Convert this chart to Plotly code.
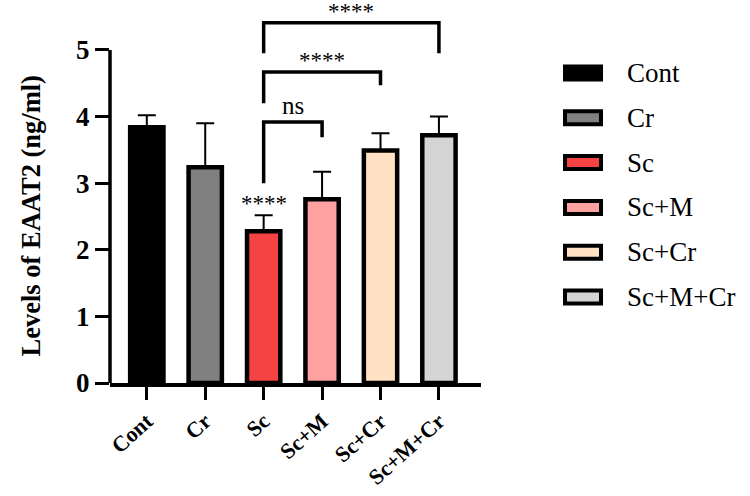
import plotly.graph_objects as go

# ---- data ----
categories = ["Cont", "Cr", "Sc", "Sc+M", "Sc+Cr", "Sc+M+Cr"]
means = [3.84, 3.24, 2.28, 2.76, 3.49, 3.72]
errors = [0.18, 0.66, 0.24, 0.41, 0.26, 0.28]
colors = ["#000000", "#808080", "#F54242", "#FFA1A1", "#FFE1C4", "#D4D4D4"]
y_ticks = [0, 1, 2, 3, 4, 5]
y_title = "Levels of EAAT2 (ng/ml)"

# significance comparisons: (from, to, label, bar height, left leg end, right leg end)
comparisons = [
    ("Sc", "Sc+M", "ns", 3.92, 3.00, 3.69),
    ("Sc", "Sc+Cr", "****", 4.67, 4.20, 4.47),
    ("Sc", "Sc+M+Cr", "****", 5.41, 4.95, 4.95),
]
single_marks = [("Sc", "****")]

# ---- layout geometry ----
W, H = 750, 496
ML, MR, MT, MB = 110, 269, 10, 113
PW, PH = W - ML - MR, H - MT - MB
Y_RANGE = [0, 5.6]
X_RANGE = [-0.63, 5.72]
SERIF = "Liberation Serif, Times New Roman, serif"
LW = 3.5


def px_x(p):
    return (p - ML) / PW


def px_y(p):
    return (H - MB - p) / PH


idx = {c: i for i, c in enumerate(categories)}

fig = go.Figure()
fig.add_trace(go.Bar(
    x=list(range(len(categories))),
    y=means,
    width=0.57,
    marker=dict(color=colors, line=dict(color="black", width=4.5)),
    error_y=dict(type="data", array=errors, arrayminus=[0] * len(errors),
                 symmetric=False, color="black", thickness=2, width=9),
    showlegend=False,
))

shapes = []
annotations = []

# y axis line (0..5 only)
shapes.append(dict(type="line", xref="paper", yref="y", x0=0, x1=0,
                   y0=y_ticks[0], y1=y_ticks[-1],
                   line=dict(color="black", width=LW)))

# brackets
for a, b, lab, h, la, lb in comparisons:
    xa, xb = idx[a], idx[b]
    shapes.append(dict(type="path", xref="x", yref="y",
                       path=f"M {xa},{la} L {xa},{h} L {xb},{h} L {xb},{lb}",
                       line=dict(color="black", width=LW)))
    is_ns = lab == "ns"
    annotations.append(dict(x=(xa + xb) / 2, y=h, xref="x", yref="y",
                            text=lab, showarrow=False, yanchor="bottom",
                            yshift=1 if is_ns else -3,
                            font=dict(family=SERIF, size=25 if is_ns else 23,
                                      color="black")))

for c, lab in single_marks:
    i = idx[c]
    annotations.append(dict(x=i, y=means[i] + errors[i], xref="x", yref="y",
                            text=lab, showarrow=False, yanchor="bottom",
                            yshift=-3,
                            font=dict(family=SERIF, size=23, color="black")))

# y axis title
annotations.append(dict(x=px_x(14), y=(Y_RANGE[0] + y_ticks[-1]) / 2,
                        xref="paper", yref="y", text=f"<b>{y_title}</b>",
                        textangle=-90, showarrow=False,
                        font=dict(family=SERIF, size=26.5, color="black")))

# custom legend
row_y = [73 + 44.8 * k for k in range(len(categories))]
for k, (c, col) in enumerate(zip(categories, colors)):
    yc = row_y[k]
    shapes.append(dict(type="rect", xref="paper", yref="paper",
                       x0=px_x(565), x1=px_x(601), y0=px_y(yc + 6.5), y1=px_y(yc - 6.5),
                       fillcolor=col, line=dict(color="black", width=4)))
    annotations.append(dict(x=px_x(625), y=px_y(yc), xref="paper", yref="paper",
                            text=c, showarrow=False, xanchor="left", yanchor="middle",
                            font=dict(family=SERIF, size=27, color="black")))

fig.update_layout(
    width=W, height=H,
    margin=dict(l=ML, r=MR, t=MT, b=MB, autoexpand=False),
    paper_bgcolor="white", plot_bgcolor="white",
    shapes=shapes, annotations=annotations,
    xaxis=dict(range=X_RANGE, tickvals=list(range(len(categories))),
               ticktext=[f"<b>{c}</b>" for c in categories],
               tickangle=-42, ticks="outside", ticklen=13, tickwidth=3,
               tickcolor="black", showline=True, linewidth=LW, linecolor="black",
               showgrid=False, zeroline=False,
               tickfont=dict(family=SERIF, size=22, color="black")),
    yaxis=dict(range=Y_RANGE, tickvals=y_ticks,
               ticktext=[f"<b>{t}</b>" for t in y_ticks],
               ticks="outside", ticklen=14, tickwidth=3, tickcolor="black",
               showline=False, showgrid=False, zeroline=False,
               tickfont=dict(family=SERIF, size=27, color="black")),
    bargap=0.4,
)

fig.write_html("out.html")
